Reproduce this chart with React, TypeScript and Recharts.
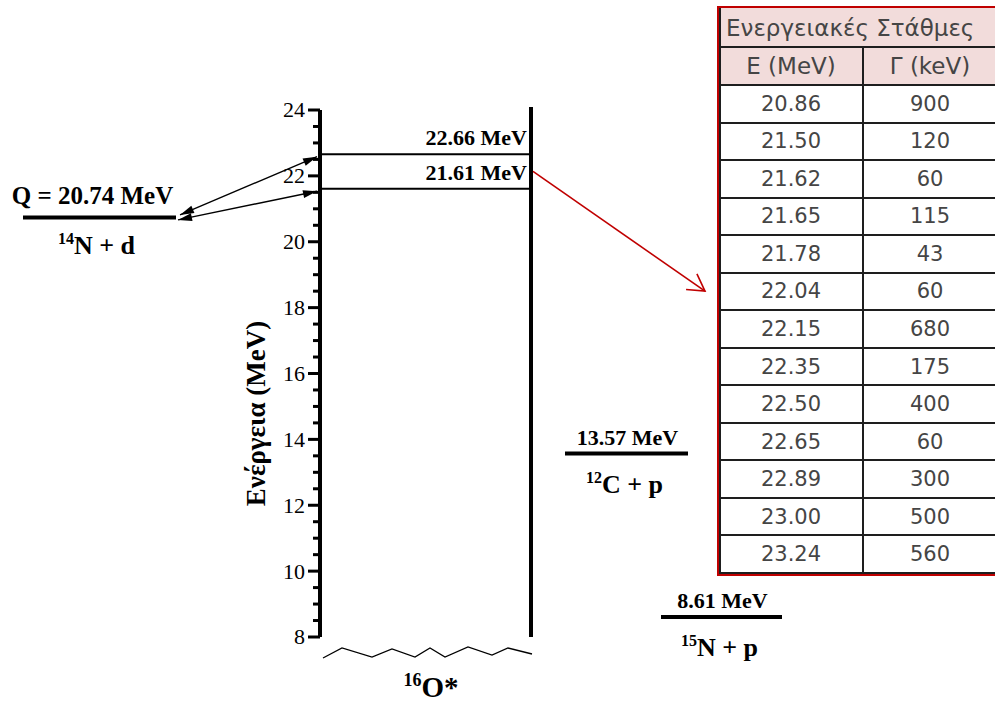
import React from 'react';
import { ComposedChart, XAxis, YAxis, ReferenceLine } from 'recharts';

// ---- Energy axis (MeV) ----
const energyDomain = [8, 24];
const majorTicks = [8, 10, 12, 14, 16, 18, 20, 22, 24];
const allTicks = [
  8, 8.5, 9, 9.5, 10, 10.5, 11, 11.5, 12, 12.5, 13, 13.5, 14, 14.5, 15, 15.5, 16,
  16.5, 17, 17.5, 18, 18.5, 19, 19.5, 20, 20.5, 21, 21.5, 22, 22.5, 23, 23.5, 24,
];

// ---- 16O* levels populated ----
const o16Levels = [22.66, 21.61];

// ---- Entrance channel 14N + d ----
const entranceQ = 20.74;
const entranceMass = '14';
const entranceRest = 'N + d';

// ---- Exit channel thresholds ----
const exitThresholds = [13.57, 8.61];
const exitMasses = ['12', '15'];
const exitRest = ['C + p', 'N + p'];

// ---- Level table ----
const tableTitle = 'Ενεργειακές Στάθμες';
const tableHeaders = ['E (MeV)', 'Γ (keV)'];
const tableEnergies = ['20.86', '21.50', '21.62', '21.65', '21.78', '22.04', '22.15', '22.35', '22.50', '22.65', '22.89', '23.00', '23.24'];
const tableWidths = ['900', '120', '60', '115', '43', '60', '680', '175', '400', '60', '300', '500', '560'];

// ---- Horizontal layout (x axis is a plain layout coordinate) ----
const W = 995;
const H = 703;
const xDomain = [320, 995];
const box = { left: 320, right: 531 };
const qLine = { from: 23, to: 176 };
const exitLines = [
  { from: 565, to: 688 },
  { from: 661, to: 782 },
];
const arrowTail = 178;
const arrowTip = 317;
const pointerEnd = { x: 705, energy: 18.5 };

const SERIF = '"Liberation Serif", "Times New Roman", serif';
const SANS = '"DejaVu Sans", "Noto Sans", sans-serif';

const fmt = (e: number) => `${e.toFixed(2)} MeV`;

function headPoints(tx: number, ty: number, fx: number, fy: number, len: number, half: number) {
  const dx = tx - fx;
  const dy = ty - fy;
  const d = Math.hypot(dx, dy) || 1;
  const ux = dx / d;
  const uy = dy / d;
  const bx = tx - ux * len;
  const by = ty - uy * len;
  return `${tx},${ty} ${bx - uy * half},${by + ux * half} ${bx + uy * half},${by - ux * half}`;
}

const EnergyTick = (props: any) => {
  const { x, y, payload } = props;
  const v = payload.value as number;
  const major = majorTicks.includes(v);
  return (
    <g>
      <line x1={x - (major ? 12 : 7)} x2={x} y1={y} y2={y} stroke="#000" strokeWidth={3} />
      {major && (
        <text x={x - 15} y={y} dy="0.34em" textAnchor="end" fontSize={22} fontFamily={SERIF} fill="#000">
          {v}
        </text>
      )}
    </g>
  );
};

const AxisTitle = (props: any) => {
  const vb = props.viewBox || { x: 0, y: 0, width: 0, height: 0 };
  const cx = vb.x + 256;
  const cy = vb.y + vb.height / 2 + 40;
  return (
    <text
      x={cx}
      y={cy}
      transform={`rotate(-90 ${cx} ${cy})`}
      textAnchor="middle"
      dominantBaseline="central"
      fontFamily={SERIF}
      fontWeight="bold"
      fontSize={27}
      fill="#000"
    >
      Ενέργεια (MeV)
    </text>
  );
};

const Formula = ({ x, y, mass, rest, size }: { x: number; y: number; mass: string; rest: string; size: number }) => (
  <text x={x} y={y} textAnchor="middle" fontFamily={SERIF} fontWeight="bold" fontSize={size} fill="#000">
    <tspan fontSize={Math.round(size * 0.62)} dy={-size * 0.38}>{mass}</tspan>
    <tspan dy={size * 0.38}>{rest}</tspan>
  </text>
);

export default function App() {
  return (
    <div style={{ position: 'absolute', left: 0, top: 0, width: W, height: H, overflow: 'hidden', background: '#fff' }}>
      <ComposedChart width={W} height={H} margin={{ top: 110, right: 0, bottom: 66, left: 0 }}>
        <XAxis type="number" dataKey="x" domain={xDomain} allowDataOverflow hide />
        <YAxis
          type="number"
          domain={energyDomain}
          allowDataOverflow
          ticks={allTicks}
          interval={0}
          width={320}
          tickSize={0}
          tickMargin={0}
          tickLine={false}
          tick={<EnergyTick />}
          axisLine={{ stroke: '#000', strokeWidth: 4 }}
          label={AxisTitle}
        />

        {/* right edge of the 16O* column */}
        <ReferenceLine
          ifOverflow="visible"
          segment={[{ x: box.right, y: energyDomain[0] }, { x: box.right, y: energyDomain[1] }]}
          shape={(p: any) => (
            <line x1={p.x1} y1={p.y1} x2={p.x2} y2={p.y2 - 3} stroke="#000" strokeWidth={4} />
          )}
        />

        {/* 16O* levels */}
        {o16Levels.map((e) => (
          <ReferenceLine
            key={`lvl-${e}`}
            ifOverflow="visible"
            segment={[{ x: box.left, y: e }, { x: box.right, y: e }]}
            shape={(p: any) => (
              <g>
                <line x1={p.x1} y1={p.y1} x2={p.x2} y2={p.y2} stroke="#000" strokeWidth={2} />
                <text x={p.x2 - 4} y={p.y1 - 9} textAnchor="end" fontFamily={SERIF} fontWeight="bold" fontSize={22} fill="#000">
                  {fmt(e)}
                </text>
              </g>
            )}
          />
        ))}

        {/* broken bottom of the 16O* column */}
        <ReferenceLine
          ifOverflow="visible"
          segment={[{ x: box.left + 3, y: energyDomain[0] }, { x: box.right + 2, y: energyDomain[0] }]}
          shape={(p: any) => {
            const wave = [
              [0, 21], [19, 11], [49, 20], [69, 12], [92, 20], [107, 11],
              [122, 20], [145, 10], [169, 18], [185, 11], [209, 17],
            ];
            const pts = wave.map(([dx, dy]) => `${p.x1 + dx},${p.y1 + dy}`).join(' ');
            const cx = (p.x1 + p.x2) / 2 + 3;
            return (
              <g>
                <polyline points={pts} fill="none" stroke="#000" strokeWidth={1.3} />
                <Formula x={cx} y={p.y1 + 60} mass="16" rest="O*" size={29} />
              </g>
            );
          }}
        />

        {/* entrance channel */}
        <ReferenceLine
          ifOverflow="visible"
          segment={[{ x: qLine.from, y: entranceQ }, { x: qLine.to, y: entranceQ }]}
          shape={(p: any) => {
            const cx = (p.x1 + p.x2) / 2;
            return (
              <g>
                <line x1={p.x1} y1={p.y1} x2={p.x2} y2={p.y2} stroke="#000" strokeWidth={4} />
                <text x={cx - 7} y={p.y1 - 13} textAnchor="middle" fontFamily={SERIF} fontWeight="bold" fontSize={25} fill="#000">
                  {`Q = ${fmt(entranceQ)}`}
                </text>
                <Formula x={cx - 3} y={p.y1 + 37} mass={entranceMass} rest={entranceRest} size={26} />
              </g>
            );
          }}
        />

        {/* double arrows between entrance channel and 16O* levels */}
        {o16Levels.map((e, i) => (
          <ReferenceLine
            key={`arr-${e}`}
            ifOverflow="visible"
            segment={[{ x: arrowTail, y: entranceQ }, { x: arrowTip, y: e }]}
            shape={(p: any) => {
              const x1 = p.x1 + (i === 0 ? 2 : 0);
              const y1 = p.y1 + (i === 0 ? -2.5 : 2.5);
              const x2 = p.x2;
              const y2 = p.y2 + 2.5;
              return (
                <g>
                  <line x1={x1} y1={y1} x2={x2} y2={y2} stroke="#000" strokeWidth={1.4} />
                  <polygon points={headPoints(x2, y2, x1, y1, 14, 4)} fill="#000" />
                  <polygon points={headPoints(x1, y1, x2, y2, 14, 4)} fill="#000" />
                </g>
              );
            }}
          />
        ))}

        {/* exit channel thresholds */}
        {exitThresholds.map((e, i) => (
          <ReferenceLine
            key={`exit-${e}`}
            ifOverflow="visible"
            segment={[{ x: exitLines[i].from, y: e }, { x: exitLines[i].to, y: e }]}
            shape={(p: any) => {
              const cx = (p.x1 + p.x2) / 2;
              return (
                <g>
                  <line x1={p.x1} y1={p.y1} x2={p.x2} y2={p.y2} stroke="#000" strokeWidth={4} />
                  <text x={cx + 1} y={p.y1 - 9} textAnchor="middle" fontFamily={SERIF} fontWeight="bold" fontSize={22} fill="#000">
                    {fmt(e)}
                  </text>
                  <Formula x={cx - 2} y={p.y1 + 39} mass={exitMasses[i]} rest={exitRest[i]} size={26} />
                </g>
              );
            }}
          />
        ))}

        {/* pointer from the 16O* levels to the table */}
        <ReferenceLine
          ifOverflow="visible"
          segment={[
            { x: box.right + 2, y: (o16Levels[0] + o16Levels[1]) / 2 },
            { x: pointerEnd.x, y: pointerEnd.energy },
          ]}
          shape={(p: any) => {
            const ang = Math.atan2(p.y2 - p.y1, p.x2 - p.x1) + Math.PI;
            const arm = 19;
            const a1 = ang + Math.PI / 6;
            const a2 = ang - Math.PI / 6;
            return (
              <g stroke="#c00000" strokeWidth={1.6} fill="none">
                <line x1={p.x1} y1={p.y1} x2={p.x2} y2={p.y2} />
                <polyline
                  points={`${p.x2 + arm * Math.cos(a1)},${p.y2 + arm * Math.sin(a1)} ${p.x2},${p.y2} ${p.x2 + arm * Math.cos(a2)},${p.y2 + arm * Math.sin(a2)}`}
                />
              </g>
            );
          }}
        />
      </ComposedChart>

      <LevelTable />
    </div>
  );
}

function LevelTable() {
  const left = 719;
  const top = 8;
  const col = 863;
  const right = 1000;
  const titleBottom = 47;
  const headBottom = 85;
  const rowH = 37.54;
  const bottom = headBottom + rowH * tableEnergies.length;
  const textStyle: React.CSSProperties = {
    position: 'absolute',
    display: 'flex',
    alignItems: 'center',
    fontFamily: SANS,
    fontSize: 21,
    color: '#454545',
    whiteSpace: 'nowrap',
  };
  const headStyle: React.CSSProperties = { ...textStyle, fontSize: 23 };
  const hLine = (y: number, key: string) => (
    <div key={key} style={{ position: 'absolute', left, top: y - 1, width: right - left, height: 2, background: '#1e1e1e' }} />
  );
  return (
    <div style={{ position: 'absolute', left: 0, top: 0 }}>
      {/* outer red frame */}
      <div
        style={{
          position: 'absolute',
          left: left - 2,
          top: top - 2,
          width: right - left + 4,
          height: bottom - top + 5,
          border: '2px solid #c00000',
          boxSizing: 'border-box',
        }}
      />
      {/* header background */}
      <div style={{ position: 'absolute', left, top, width: right - left, height: headBottom - top, background: '#f2dcdb' }} />
      {/* grid */}
      <div style={{ position: 'absolute', left, top, width: 2, height: bottom - top + 1, background: '#1e1e1e' }} />
      <div style={{ position: 'absolute', left: col - 1, top: titleBottom, width: 2, height: bottom - titleBottom + 1, background: '#1e1e1e' }} />
      {hLine(titleBottom, 't')}
      {hLine(headBottom, 'h')}
      {tableEnergies.map((_, i) => hLine(headBottom + rowH * (i + 1), `r${i}`))}

      {/* texts */}
      <div style={{ ...headStyle, left: left + 7, top, height: titleBottom - top }}>{tableTitle}</div>
      <div style={{ ...headStyle, left, top: titleBottom, width: col - left, height: headBottom - titleBottom, justifyContent: 'center' }}>
        {tableHeaders[0]}
      </div>
      <div style={{ ...headStyle, left: col, top: titleBottom, width: 134, height: headBottom - titleBottom, justifyContent: 'center' }}>
        {tableHeaders[1]}
      </div>
      {tableEnergies.map((e, i) => (
        <React.Fragment key={`row-${i}`}>
          <div style={{ ...textStyle, left, top: headBottom + rowH * i, width: col - left, height: rowH, justifyContent: 'center' }}>{e}</div>
          <div style={{ ...textStyle, left: col, top: headBottom + rowH * i, width: 134, height: rowH, justifyContent: 'center' }}>
            {tableWidths[i]}
          </div>
        </React.Fragment>
      ))}
    </div>
  );
}
